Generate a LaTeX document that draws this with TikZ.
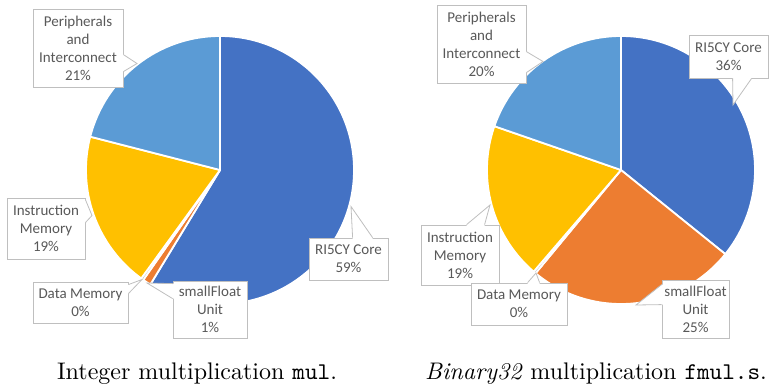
\documentclass[tikz,border=0pt]{standalone}
\usepackage{fontspec}
\setmainfont{lmroman10}[Extension=.otf, UprightFont=*-regular,
  ItalicFont=*-italic, BoldFont=*-bold, BoldItalicFont=*-bolditalic]
\setmonofont{lmmono10}[Extension=.otf, UprightFont=*-regular,
  ItalicFont=*-italic]
\newfontfamily\lblfont{Carlito}
\usetikzlibrary{calc}

\definecolor{cCore}{HTML}{4472C4}
\definecolor{cSF}{HTML}{ED7D31}
\definecolor{cData}{HTML}{A5A5A5}
\definecolor{cInstr}{HTML}{FFC000}
\definecolor{cPeri}{HTML}{5B9BD5}
\definecolor{boxgray}{HTML}{BFBFBF}
\definecolor{lbltext}{HTML}{595959}

\tikzset{
  slice/.style={fill=#1, draw=white, line width=1.8pt, line join=round},
  lblbox/.style={draw=boxgray, fill=white, line width=0.8pt, text=lbltext,
    font=\lblfont\fontsize{15}{18}\selectfont, align=center, inner sep=0pt},
  wedgeline/.style={draw=boxgray, line width=0.8pt, line join=miter},
  caption/.style={font=\fontsize{24}{28}\selectfont, anchor=base, inner sep=0pt},
}

% one pie slice: centre, radius, from (%), to (%), colour; clockwise from 12 o'clock
\newcommand\pieslice[5]{%
  \path[slice=#5] (#1) -- ++({-90+3.6*#3}:#2)
    arc[start angle={-90+3.6*#3}, end angle={-90+3.6*#4}, radius=#2] -- cycle;}

% callout pointer: anchor, first base offset, second base offset, inward shift, tip
\newcommand\callwedge[5]{%
  \fill[white] ($(#1)+(#2)+(#4)$) -- ($(#1)+(#2)$) -- (#5) -- ($(#1)+(#3)$)
    -- ($(#1)+(#3)+(#4)$) -- cycle;
  \draw[wedgeline] ($(#1)+(#2)$) -- (#5) -- ($(#1)+(#3)$);}

\begin{document}
\begin{tikzpicture}[x=1pt,y=-1pt]
\useasboundingbox (0,0) rectangle (774,391);

% ---------- integer multiplication ----------
\coordinate (lc) at (220,170);
\pieslice{lc}{134}{0}{58.7}{cCore}
\pieslice{lc}{134}{58.7}{59.7}{cSF}
\pieslice{lc}{134}{59.7}{60.0}{cData}
\pieslice{lc}{134}{60.0}{79.0}{cInstr}
\pieslice{lc}{134}{79.0}{100}{cPeri}

\coordinate (lperiT) at (137,63.5);
\coordinate (linstrT) at (92,215.5);
\coordinate (ldataT) at (142,279.5);
\coordinate (lsfT) at (147,283);
\coordinate (lcoreT) at (351,206.5);

\node[lblbox, minimum width=90pt, minimum height=78pt] (lperi) at (78,48)
  {Peripherals\\and\\Interconnect\\21\%};
\callwedge{lperi.north east}{0,46}{0,63}{-1.2,0}{lperiT}

\node[lblbox, minimum width=78pt, minimum height=61pt] (linstr) at (46,228.5)
  {Instruction\\Memory\\19\%};
\callwedge{linstr.north east}{0,2}{0,25}{-1.2,0}{linstrT}

\node[lblbox, minimum width=95pt, minimum height=41pt] (ldata) at (80.5,302.5)
  {Data Memory\\0\%};
\callwedge{ldata.north east}{0,3}{0,12}{-1.2,0}{ldataT}

\node[lblbox, minimum width=74pt, minimum height=57pt] (lsf) at (210,309.5)
  {smallFloat\\Unit\\1\%};
\callwedge{lsf.north west}{0,3}{0,18}{1.2,0}{lsfT}

\node[lblbox, minimum width=79pt, minimum height=42pt] (lcore) at (348.5,259)
  {RI5CY Core\\59\%};
\callwedge{lcore.north west}{44,0}{64,0}{0,1.2}{lcoreT}

% ---------- binary32 multiplication ----------
\coordinate (rc) at (621,170);
\pieslice{rc}{134}{0}{35.8}{cCore}
\pieslice{rc}{134}{35.8}{61.0}{cSF}
\pieslice{rc}{134}{61.0}{61.3}{cData}
\pieslice{rc}{134}{61.3}{80.3}{cInstr}
\pieslice{rc}{134}{80.3}{100}{cPeri}

\coordinate (rperiT) at (543,61.5);
\coordinate (rcoreT) at (733,105);
\coordinate (rinstrT) at (490,205);
\coordinate (rdataT) at (536,273);
\coordinate (rsfT) at (636,305);

\node[lblbox, minimum width=89pt, minimum height=78pt] (rperi) at (481.5,44)
  {Peripherals\\and\\Interconnect\\20\%};
\callwedge{rperi.north east}{0,47}{0,68}{-1.2,0}{rperiT}

\node[lblbox, minimum width=79pt, minimum height=43pt] (rcore) at (728.5,56.5)
  {RI5CY Core\\36\%};
\callwedge{rcore.south west}{44,0}{63,0}{0,-1.2}{rcoreT}

\node[lblbox, minimum width=78pt, minimum height=60pt] (rinstr) at (460,255)
  {Instruction\\Memory\\19\%};
\callwedge{rinstr.north west}{46,0}{64,0}{0,1.2}{rinstrT}

\node[lblbox, minimum width=96pt, minimum height=42pt] (rdata) at (519,304)
  {Data Memory\\0\%};
\callwedge{rdata.north west}{57,0}{69,0}{0,1.2}{rdataT}

\node[lblbox, minimum width=67pt, minimum height=58pt] (rsf) at (695.5,309)
  {smallFloat\\Unit\\25\%};
\callwedge{rsf.north west}{0,5}{0,25}{1.2,0}{rsfT}

% ---------- captions ----------
\node[caption] (capl) at (197,379) {Integer multiplication \texttt{mul}.};
\node[caption] (capr) at (596,379) {\textit{Binary32} multiplication \texttt{fmul.s}.};
\end{tikzpicture}
\end{document}
